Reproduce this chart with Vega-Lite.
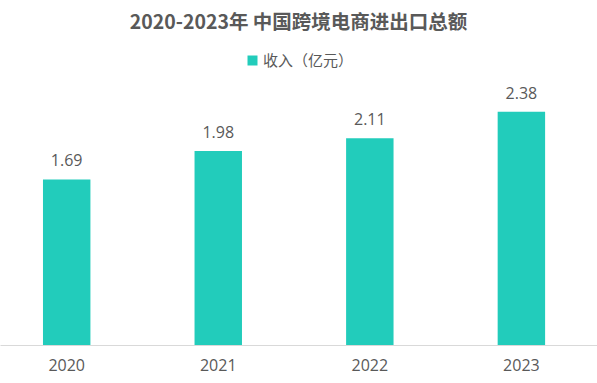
{
  "$schema": "https://vega.github.io/schema/vega-lite/v6.json",
  "width": 597,
  "height": 245,
  "autosize": {"type": "none"},
  "padding": {"top": 100, "left": 0, "right": 0, "bottom": 38},
  "background": "white",
  "title": {
    "text": "2020-2023年 中国跨境电商进出口总额",
    "font": "Noto Sans CJK SC",
    "fontSize": 19.5,
    "fontWeight": "bold",
    "color": "#595959",
    "anchor": "middle",
    "frame": "group",
    "offset": 20
  },
  "data": {
    "values": [
      {"year": "2020", "value": 1.69, "series": "收入（亿元）"},
      {"year": "2021", "value": 1.98, "series": "收入（亿元）"},
      {"year": "2022", "value": 2.11, "series": "收入（亿元）"},
      {"year": "2023", "value": 2.38, "series": "收入（亿元）"}
    ]
  },
  "encoding": {
    "x": {
      "field": "year",
      "type": "nominal",
      "scale": {"paddingInner": 0.687, "paddingOuter": 0.313, "align": 0.453},
      "axis": {
        "title": null,
        "labelAngle": 0,
        "ticks": false,
        "domainColor": "#d9d9d9",
        "domainWidth": 1,
        "labelColor": "#595959",
        "labelFont": "Open Sans",
        "labelFontSize": 16,
        "labelPadding": 12
      }
    },
    "y": {
      "field": "value",
      "type": "quantitative",
      "scale": {"domain": [0, 2.5], "nice": false},
      "axis": null
    }
  },
  "layer": [
    {
      "mark": {"type": "bar"},
      "encoding": {
        "color": {
          "field": "series",
          "type": "nominal",
          "scale": {"range": ["#22CCBB"]},
          "legend": {
            "title": null,
            "orient": "none",
            "legendX": 245,
            "legendY": -47,
            "symbolType": "square",
            "symbolSize": 100,
            "symbolStrokeWidth": 0,
            "labelFont": "Noto Sans CJK SC",
            "labelFontSize": 15,
            "labelColor": "#595959",
            "labelOffset": 3
          }
        }
      }
    },
    {
      "mark": {
        "type": "text",
        "dy": -13,
        "baseline": "alphabetic",
        "font": "Open Sans",
        "fontSize": 16,
        "color": "#595959"
      },
      "encoding": {
        "text": {"field": "value", "type": "quantitative", "format": ".2f"}
      }
    }
  ],
  "config": {
    "view": {"stroke": null}
  }
}
